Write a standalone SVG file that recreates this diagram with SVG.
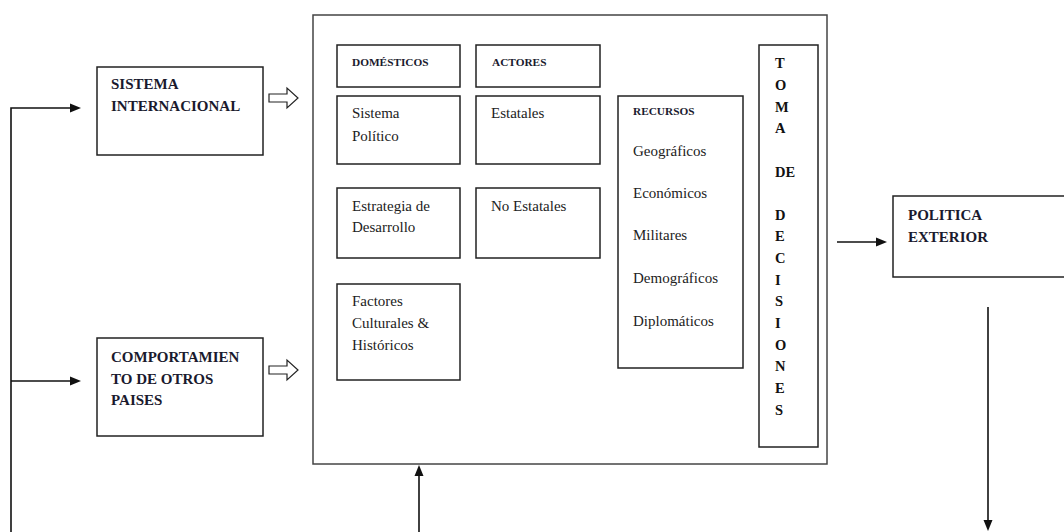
<svg xmlns="http://www.w3.org/2000/svg" width="1064" height="532" viewBox="0 0 1064 532" font-family="Liberation Serif, Times New Roman, DejaVu Serif, serif">
<style>
.box{fill:#fff;stroke:#222;stroke-width:1.5}
.outer{fill:#fff;stroke:#444;stroke-width:1.5}
text{font-family:"Liberation Serif","Times New Roman","DejaVu Serif",serif}
.hb{font-weight:bold;font-size:15px;fill:#1a1a2e}
.hs{font-weight:bold;font-size:11.3px;fill:#1a1a2e}
.t{font-size:15px;fill:#222}
.v{font-weight:bold;font-size:14.5px;fill:#111}
.ln{fill:none;stroke:#111;stroke-width:1.6}
.head{fill:#111;stroke:none}
.hollow{fill:#fff;stroke:#222;stroke-width:1.2}
</style>
<rect width="1064" height="532" fill="#fff"/>

<g id="main-box">
<rect class="outer" x="313" y="15" width="514" height="449"/>
</g>

<g id="sistema-internacional">
<rect class="box" x="97" y="67" width="166" height="88"/>
<text class="hb" x="111" y="89" font-family="Liberation Serif, serif">SISTEMA</text>
<text class="hb" x="111" y="111" font-family="Liberation Serif, serif">INTERNACIONAL</text>
</g>

<g id="comportamiento" font-family="Liberation Serif, serif">
<rect class="box" x="97" y="338" width="166" height="98"/>
<text class="hb" x="111" y="362">COMPORTAMIEN</text>
<text class="hb" x="111" y="384">TO DE OTROS</text>
<text class="hb" x="111" y="405">PAISES</text>
</g>

<g id="domesticos">
<rect class="box" x="337" y="45" width="123" height="42"/>
<text class="hs" x="352" y="66">DOMÉSTICOS</text>
</g>
<g id="actores">
<rect class="box" x="476" y="45" width="124" height="42"/>
<text class="hs" x="492" y="66">ACTORES</text>
</g>
<g id="sistema-politico">
<rect class="box" x="337" y="96" width="123" height="68"/>
<text class="t" x="352" y="118">Sistema</text>
<text class="t" x="352" y="141">Político</text>
</g>
<g id="estatales">
<rect class="box" x="476" y="96" width="124" height="68"/>
<text class="t" x="491" y="118">Estatales</text>
</g>
<g id="estrategia">
<rect class="box" x="337" y="188" width="123" height="70"/>
<text class="t" x="352" y="211">Estrategia de</text>
<text class="t" x="352" y="232">Desarrollo</text>
</g>
<g id="no-estatales">
<rect class="box" x="476" y="188" width="124" height="70"/>
<text class="t" x="491" y="211">No Estatales</text>
</g>
<g id="factores">
<rect class="box" x="337" y="284" width="123" height="96"/>
<text class="t" x="352" y="306">Factores</text>
<text class="t" x="352" y="328">Culturales &amp;</text>
<text class="t" x="352" y="350">Históricos</text>
</g>
<g id="recursos">
<rect class="box" x="618" y="96" width="125" height="272"/>
<text class="hs" x="633" y="115">RECURSOS</text>
<text class="t" x="633" y="156">Geográficos</text>
<text class="t" x="633" y="198">Económicos</text>
<text class="t" x="633" y="240">Militares</text>
<text class="t" x="633" y="283">Demográficos</text>
<text class="t" x="633" y="326">Diplomáticos</text>
</g>
<g id="toma-de-decisiones">
<rect class="box" x="759" y="45" width="59" height="402"/>
<text class="v" x="775" y="68">T</text>
<text class="v" x="775" y="90">O</text>
<text class="v" x="775" y="112">M</text>
<text class="v" x="775" y="133">A</text>
<text class="v" x="775" y="177">DE</text>
<text class="v" x="775" y="220">D</text>
<text class="v" x="775" y="241">E</text>
<text class="v" x="775" y="263">C</text>
<text class="v" x="775" y="285">I</text>
<text class="v" x="775" y="306">S</text>
<text class="v" x="775" y="328">I</text>
<text class="v" x="775" y="350">O</text>
<text class="v" x="775" y="371">N</text>
<text class="v" x="775" y="393">E</text>
<text class="v" x="775" y="415">S</text>
</g>
<g id="politica-exterior">
<rect class="box" x="893" y="196" width="180" height="81"/>
<text class="hb" x="908" y="220">POLITICA</text>
<text class="hb" x="908" y="242">EXTERIOR</text>
</g>

<g id="connectors">
<path class="ln" d="M11,532 L11,108 L72,108"/>
<path class="head" d="M70,103.5 L81,108 L70,112.5 Z"/>
<path class="ln" d="M11,381 L72,381"/>
<path class="head" d="M70,376.5 L81,381 L70,385.5 Z"/>
<path class="ln" d="M837,242 L878,242"/>
<path class="head" d="M876,237.5 L887,242 L876,246.5 Z"/>
<path class="ln" d="M988,307 L988,522"/>
<path class="head" d="M983.5,520 L988,531 L992.5,520 Z"/>
<path class="ln" d="M419,532 L419,474"/>
<path class="head" d="M414.5,476 L419,465 L423.5,476 Z"/>
<path class="hollow" d="M269,94 L287,94 L287,88 L298,98 L287,108 L287,102 L269,102 Z"/>
<path class="hollow" d="M269,366 L287,366 L287,360 L298,370 L287,380 L287,374 L269,374 Z"/>
</g>
</svg>
